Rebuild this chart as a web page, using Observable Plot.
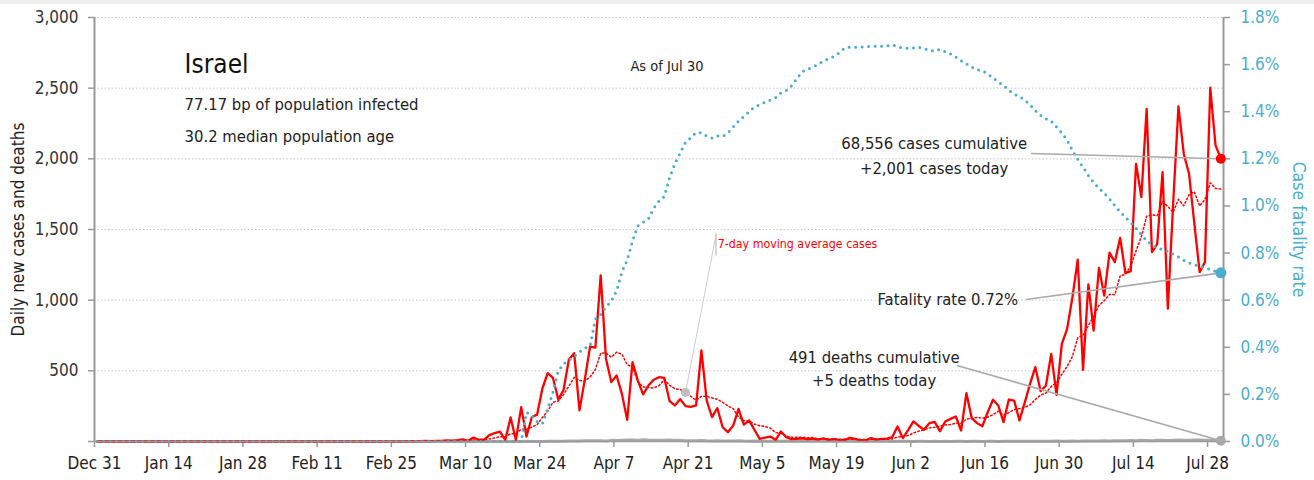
<!DOCTYPE html>
<html>
<head>
<meta charset="utf-8">
<script src="https://cdn.jsdelivr.net/npm/d3@7"></script>
<script src="https://cdn.jsdelivr.net/npm/@observablehq/plot@0.6"></script>
<style>
  body { margin: 0; background: #fff; }
  #strip { height: 4px; background: #efefef; }
  #chart svg { font-family: "DejaVu Sans Condensed", "DejaVu Sans", sans-serif; font-stretch: condensed; }
</style>
</head>
<body>
<div id="strip"></div>
<div id="chart"></div>
<script>
// ---------- DATA ----------
const startDate = "2019-12-31"; // day 0; one value per day through Jul 30

// Daily new cases (Israel)
const cases = [
  0,0,0,0,0,0,0,0,0,0, 0,0,0,0,0,0,0,0,0,0,
  0,0,0,0,0,0,0,0,0,0, 0,0,0,0,0,0,0,0,0,0,
  0,0,0,0,0,0,0,0,0,0, 0,0,
  1,0,0,1,0,1,0,3,1,2,
  5,3,4,4,8,6,10,15,5,28,
  12,14,45,60,70,10,170,10,243,35,
  172,190,375,483,450,297,366,580,625,220,
  438,672,665,1175,586,420,467,337,153,561,
  432,333,396,437,455,450,285,255,300,250,
  245,255,644,290,172,236,101,66,113,231,
  119,149,83,19,27,35,12,71,30,17,
  18,23,16,20,14,22,11,17,12,10,
  26,19,7,9,24,14,18,20,31,106,
  24,80,142,110,83,130,139,73,142,160,
  177,78,342,165,130,108,205,295,255,137,
  297,290,149,275,408,526,356,396,620,330,
  691,797,1021,1286,507,1111,785,1229,1033,1336,
  1269,1441,1191,1205,1965,1729,2354,1340,1399,1906,
  940,1682,2371,2036,1894,1541,1198,1269,2503,2095,
  2001
];

// Daily new deaths
const deaths = [
  0,0,0,0,0,0,0,0,0,0, 0,0,0,0,0,0,0,0,0,0,
  0,0,0,0,0,0,0,0,0,0, 0,0,0,0,0,0,0,0,0,0,
  0,0,0,0,0,0,0,0,0,0, 0,0,0,0,0,0,0,0,0,0,
  0,0,0,0,0,0,0,0,0,0, 0,0,0,0,0,0,0,0,0,0,
  0,
  1,0,0,0,1,1,2,2,3,4,3,
  5,6,5,6,4,8,7,9,10,11, 8,12,10,9,9,8,10,7,8,6, 6,5,7,5,4,6,4,3,4,5,
  3,2,3,2,2,1,3,2,3,1, 2,1,2,1,1,2,1,1,2,1, 1,2,1,0,1,2,1,1,0,1,1,
  1,0,1,1,0,1,0,1,0,1, 1,0,1,1,0,1,1,0,1,2, 1,1,2,1,2,2,1,2,3,2,
  2,3,2,3,4,3,4,5,4,5, 6,5,7,6,8,7,6,8,9,7, 9,10,8,9,10,11,9,8,6,5
];

// Case fatality rate, percent
const fatalityRate = [
  0,0,0,0,0,0,0,0,0,0, 0,0,0,0,0,0,0,0,0,0,
  0,0,0,0,0,0,0,0,0,0, 0,0,0,0,0,0,0,0,0,0,
  0,0,0,0,0,0,0,0,0,0, 0,0,0,0,0,0,0,0,0,0,
  0,0,0,0,0,0,0,0,0,0, 0,0,0,0,0,0,0,0,0,0,
  0,0.124,0.11,0.085,0.075,0.139,0.21,0.30,0.33,0.345,
  0.362,0.38,0.396,0.405,0.52,0.539,0.572,0.595,0.64,0.72,
  0.77,0.85,0.915,0.93,0.945,0.99,1.02,1.04,1.12,1.18,
  1.225,1.27,1.29,1.312,1.31,1.297,1.288,1.297,1.295,1.31,
  1.335,1.36,1.38,1.40,1.42,1.43,1.44,1.45,1.46,1.48,
  1.49,1.51,1.54,1.57,1.58,1.59,1.60,1.615,1.625,1.635,
  1.65,1.67,1.674,1.674,1.674,1.676,1.678,1.678,1.678,1.679,
  1.684,1.676,1.671,1.669,1.67,1.674,1.668,1.661,1.657,1.665,
  1.655,1.645,1.632,1.616,1.603,1.59,1.578,1.575,1.561,1.544,
  1.526,1.512,1.49,1.475,1.464,1.45,1.43,1.405,1.385,1.37,
  1.36,1.335,1.31,1.28,1.235,1.198,1.164,1.13,1.10,1.075,
  1.054,1.03,1.002,0.975,0.952,0.93,0.905,0.878,0.853,0.835,
  0.823,0.815,0.808,0.795,0.783,0.769,0.758,0.751,0.744,0.738,
  0.73,0.723,0.716
];

const leftTicks = [0, 500, 1000, 1500, 2000, 2500, 3000];
const leftTickLabels = ["", "500", "1,000", "1,500", "2,000", "2,500", "3,000"];
const gridValues = [500, 1000, 1500, 2000, 2500, 3000];
const rateTicks = [0, 0.2, 0.4, 0.6, 0.8, 1.0, 1.2, 1.4, 1.6, 1.8];
const rateTickLabels = ["0.0%", "0.2%", "0.4%", "0.6%", "0.8%", "1.0%", "1.2%", "1.4%", "1.6%", "1.8%"];
const xTickDates = ["2019-12-31","2020-01-14","2020-01-28","2020-02-11","2020-02-25","2020-03-10","2020-03-24",
  "2020-04-07","2020-04-21","2020-05-05","2020-05-19","2020-06-02","2020-06-16","2020-06-30","2020-07-14","2020-07-28"];
const xTickLabels = ["Dec 31","Jan 14","Jan 28","Feb 11","Feb 25","Mar 10","Mar 24",
  "Apr 7","Apr 21","May 5","May 19","Jun 2","Jun 16","Jun 30","Jul 14","Jul 28"];

const titleText = "Israel";
const subtitle1 = "77.17 bp of population infected";
const subtitle2 = "30.2 median population age";
const asOfText = "As of Jul 30";
const casesNote = "68,556 cases cumulative\n+2,001 cases today";
const fatalityNote = "Fatality rate 0.72%";
const deathsNote = "491 deaths cumulative\n+5 deaths today";
const avgNote = "7-day moving average cases";
const leftTitle = "Daily new cases and deaths";
const rightTitle = "Case fatality rate";

// ---------- BUILD ----------
const parse = d3.utcParse("%Y-%m-%d");
const t0 = parse(startDate);
const tEnd = d3.utcDay.offset(t0, cases.length);
const table = cases.map((c, i) => ({
  date: d3.utcHour.offset(d3.utcDay.offset(t0, i), 12),
  cases: c, deaths: deaths[i], rate: fatalityRate[i]
}));
const K = 3000 / 1.8; // rate (%) -> left-axis units
const last = table[table.length - 1];
const at = (s) => new Date(s);

const BLUE = "#4aadcb";
const RED = "#ff0000";
const GRAY = "#aaaaaa";
const AX = "#999999";
const TXT = "#222222";
const FS = 17;      // tick labels
const NOTE = 16.5;  // annotation text

const xLabel = new Map(xTickDates.map((s, i) => [+parse(s), xTickLabels[i]]));
const leftLabel = new Map(leftTicks.map((v, i) => [v, leftTickLabels[i]]));
const rateLabel = new Map(rateTicks.map((r, i) => [Math.round(r * K), rateTickLabels[i]]));

const avgIdx = 111;
const avgPoint = { date: table[avgIdx].date, v: d3.mean(cases.slice(avgIdx - 6, avgIdx + 1)) };

const chart = Plot.plot({
  width: 1314,
  height: 476,
  marginTop: 13,
  marginBottom: 39,
  marginLeft: 94,
  marginRight: 91,
  x: { type: "utc", domain: [t0, tEnd] },
  y: { domain: [0, 3000] },
  style: { background: "white", color: TXT, overflow: "visible" },
  marks: [
    Plot.ruleY(gridValues, { stroke: "#b8b8b8", strokeWidth: 1, strokeDasharray: "1.2,2.3" }),
    // axes
    Plot.axisY(leftTicks, { anchor: "left", tickSize: 6, tickPadding: 10, stroke: AX, strokeWidth: 1.5,
      fontSize: FS, fill: "#333", tickFormat: (v) => leftLabel.get(v), label: null }),
    Plot.axisY(rateTicks.map(r => r * K), { anchor: "right", tickSize: 6, tickPadding: 11, stroke: AX, strokeWidth: 1.5,
      fontSize: FS, fill: BLUE, tickFormat: (v) => rateLabel.get(Math.round(v)), label: null }),
    Plot.axisX(xTickDates.map(parse), { tickSize: 6, tickPadding: 9, stroke: AX, strokeWidth: 1.5,
      fontSize: FS, fill: "#222", tickFormat: (d) => xLabel.get(+d), label: null }),
    Plot.ruleX([t0], { stroke: AX, strokeWidth: 2 }),
    Plot.ruleX([tEnd], { stroke: AX, strokeWidth: 2 }),
    // axis titles
    Plot.text([leftTitle], { frameAnchor: "left", textAnchor: "middle", dx: -76, rotate: -90, fontSize: 17, fill: TXT }),
    Plot.text([rightTitle], { frameAnchor: "right", textAnchor: "middle", dx: 75, rotate: 90, fontSize: 17.5, fill: BLUE }),
    // series
    Plot.lineY(table, { x: "date", y: "deaths", stroke: GRAY, strokeWidth: 3 }),
    Plot.lineY(table, Plot.windowY({ k: 7, anchor: "end", reduce: "mean" },
      { x: "date", y: "cases", stroke: RED, strokeWidth: 1.5, strokeDasharray: "1.6,2.4" })),
    Plot.lineY(table, { x: "date", y: "cases", stroke: RED, strokeWidth: 2.3, strokeLinejoin: "round" }),
    Plot.lineY(table, { x: "date", y: (d) => d.rate * K, stroke: BLUE, strokeWidth: 3,
      strokeDasharray: "0,6.5", strokeLinecap: "round" }),
    Plot.ruleY([0], { stroke: AX, strokeWidth: 1.5 }),
    // annotations
    Plot.text([{ x: at("2020-01-17"), y: 2668, t: titleText }], { x: "x", y: "y", text: "t", textAnchor: "start", fontSize: 26, fill: "#111" }),
    Plot.text([{ x: at("2020-01-17"), y: 2385, t: subtitle1 }], { x: "x", y: "y", text: "t", textAnchor: "start", fontSize: 16.5, fill: TXT }),
    Plot.text([{ x: at("2020-01-17"), y: 2155, t: subtitle2 }], { x: "x", y: "y", text: "t", textAnchor: "start", fontSize: 16.5, fill: TXT }),
    Plot.text([{ x: at("2020-04-17"), y: 2657, t: asOfText }], { x: "x", y: "y", text: "t", textAnchor: "middle", fontSize: 14.5, fill: TXT }),
    // cases note
    Plot.link([{ x1: at("2020-06-24T17:00Z"), y1: 2038, x2: last.date, y2: last.cases }],
      { x1: "x1", y1: "y1", x2: "x2", y2: "y2", stroke: GRAY, strokeWidth: 1.6 }),
    Plot.text([{ x: at("2020-06-06T10:00Z"), y: 2038, t: casesNote }], { x: "x", y: "y", text: "t", textAnchor: "middle", lineHeight: 1.5, fontSize: NOTE, fill: TXT }),
    // fatality note
    Plot.link([{ x1: at("2020-06-23T19:00Z"), y1: 1005, x2: last.date, y2: last.rate * K }],
      { x1: "x1", y1: "y1", x2: "x2", y2: "y2", stroke: GRAY, strokeWidth: 1.6 }),
    Plot.text([{ x: at("2020-06-09T00:00Z"), y: 1001, t: fatalityNote }], { x: "x", y: "y", text: "t", textAnchor: "middle", fontSize: NOTE, fill: TXT }),
    // deaths note
    Plot.link([{ x1: at("2020-06-10T17:00Z"), y1: 538, x2: last.date, y2: last.deaths }],
      { x1: "x1", y1: "y1", x2: "x2", y2: "y2", stroke: GRAY, strokeWidth: 1.6 }),
    Plot.text([{ x: at("2020-05-26T02:00Z"), y: 525, t: deathsNote }], { x: "x", y: "y", text: "t", textAnchor: "middle", lineHeight: 1.4, fontSize: NOTE, fill: TXT }),
    // moving average note
    Plot.link([{ x1: avgPoint.date, y1: avgPoint.v, x2: at("2020-04-26T06:00Z"), y2: 1460 }],
      { x1: "x1", y1: "y1", x2: "x2", y2: "y2", stroke: "#cccccc", strokeWidth: 1 }),
    Plot.link([{ x1: at("2020-04-26T06:00Z"), y1: 1472, x2: at("2020-04-26T06:00Z"), y2: 1316 }],
      { x1: "x1", y1: "y1", x2: "x2", y2: "y2", stroke: "#bbbbbb", strokeWidth: 1.2 }),
    Plot.text([{ x: at("2020-04-26T14:00Z"), y: 1394, t: avgNote }], { x: "x", y: "y", text: "t", textAnchor: "start", fontSize: 12.3, fill: RED }),
    Plot.dot([avgPoint], { x: "date", y: "v", r: 4.5, fill: "#bfbfbf" }),
    // end dots
    Plot.dot([last], { x: "date", y: "cases", r: 5, fill: RED }),
    Plot.dot([last], { x: "date", y: (d) => d.rate * K, r: 5.5, fill: BLUE }),
    Plot.dot([last], { x: "date", y: "deaths", r: 5, fill: GRAY })
  ]
});
document.getElementById("chart").appendChild(chart);
</script>
</body>
</html>
